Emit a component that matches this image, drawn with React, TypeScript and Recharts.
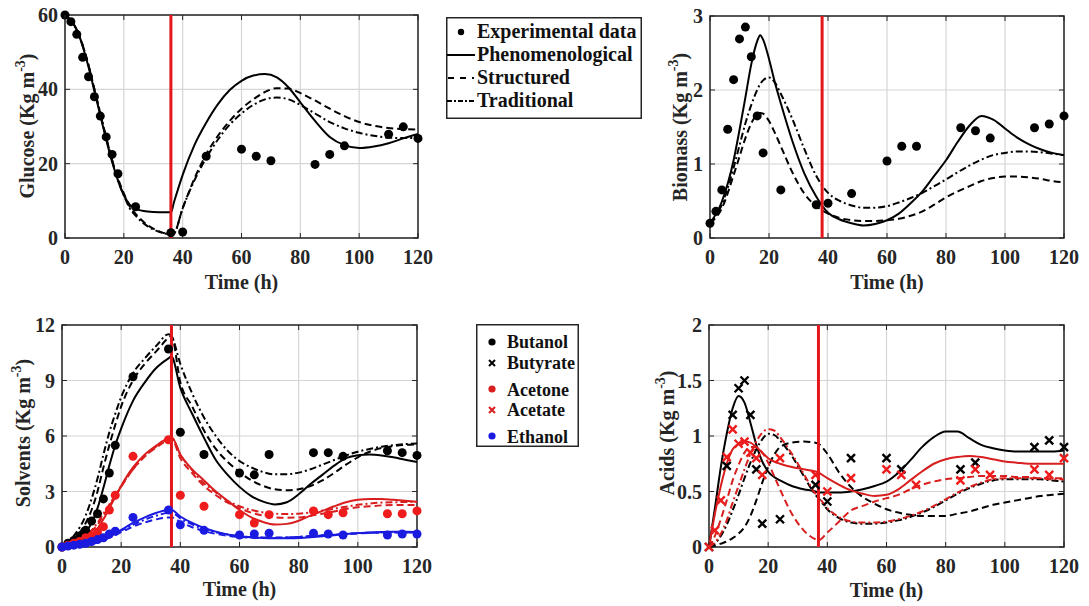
import React from 'react';
import {
  ComposedChart,
  Line,
  Scatter,
  XAxis,
  YAxis,
  CartesianGrid,
  ReferenceLine,
  ReferenceArea,
} from 'recharts';

const FONT = '"Liberation Serif", "Times New Roman", serif';
const INK = '#262626';
const RED = '#d81e1e';
const BLUE = '#1a1ae0';
const CUT = '#e3161b';
const DASH = '7 4';
const DASHDOT = '7 3 2 3';

const timeTicks = [0, 20, 40, 60, 80, 100, 120];
const expTime = [0, 2, 4, 6, 8, 10, 12, 14, 16, 18, 24, 36, 40, 48, 60, 65, 70, 85, 90, 95, 110, 115, 120];

// ---- glucose ----
const glcT = [0, 4, 8, 10, 12, 14, 16, 18, 20, 22, 24, 28, 32, 36, 37, 40, 44, 48, 52, 56, 60, 64, 68, 72, 76, 80, 85, 90, 95, 100, 105, 110, 115, 120];
const glcPhen = [60, 56, 46, 39.5, 33, 26.5, 20.5, 15.5, 11.5, 9, 7.9, 7.1, 6.9, 6.9, 9.5, 17, 25, 31, 36, 39.8, 42.3, 43.7, 44.1, 43.2, 40.5, 36.5, 31.5, 27.2, 25, 24.2, 24.6, 25.5, 26.8, 28];
const glcStruct = [60, 56, 46.5, 40, 33.5, 27, 21, 16, 12, 8.5, 6.5, 3.5, 1.8, 1, 1.2, 8, 16, 22.5, 27.5, 31.5, 34.8, 37.3, 39.3, 40.3, 40.2, 39, 37, 34.8, 32.8, 31.2, 30.2, 29.6, 29.3, 29.2];
const glcTrad = [60, 56, 46.5, 40, 33.5, 27, 21, 15.5, 11.5, 8, 6, 3.2, 1.7, 1, 1.2, 8, 15.5, 21.5, 26.5, 30.5, 33.5, 35.8, 37.3, 37.8, 37.3, 35.8, 33.5, 31.2, 29.5, 28.3, 27.5, 27, 26.9, 26.9];
const glcExp = [60, 58.2, 54.8, 48.6, 43.4, 38, 32.8, 27.2, 22.5, 17.3, 8.4, 1.4, 1.6, 22, 23.9, 22, 20.8, 19.8, 22.5, 24.8, 27.9, 29.9, 26.8];

// ---- biomass ----
const bioT = [0, 4, 8, 10, 12, 14, 16, 17, 18, 20, 22, 24, 28, 32, 36, 40, 44, 48, 52, 56, 60, 64, 68, 72, 76, 80, 84, 88, 92, 96, 100, 104, 108, 112, 116, 120];
const bioPhen = [0.2, 0.49, 1.05, 1.46, 1.9, 2.35, 2.66, 2.74, 2.68, 2.42, 2.1, 1.82, 1.3, 0.87, 0.56, 0.34, 0.25, 0.2, 0.17, 0.19, 0.24, 0.33, 0.47, 0.63, 0.84, 1.05, 1.3, 1.52, 1.65, 1.6, 1.48, 1.36, 1.27, 1.2, 1.15, 1.12];
const bioStruct = [0.2, 0.4, 0.85, 1.1, 1.35, 1.55, 1.67, 1.69, 1.68, 1.58, 1.42, 1.24, 0.88, 0.6, 0.43, 0.33, 0.27, 0.24, 0.23, 0.23, 0.24, 0.26, 0.3, 0.36, 0.45, 0.55, 0.63, 0.7, 0.77, 0.81, 0.83, 0.83, 0.82, 0.8, 0.77, 0.75];
const bioTrad = [0.2, 0.45, 0.95, 1.25, 1.55, 1.8, 2.0, 2.08, 2.13, 2.17, 2.1, 1.95, 1.6, 1.2, 0.84, 0.61, 0.5, 0.44, 0.41, 0.41, 0.43, 0.48, 0.54, 0.61, 0.7, 0.79, 0.89, 0.98, 1.06, 1.12, 1.15, 1.17, 1.17, 1.16, 1.14, 1.12];
const bioExp = [0.2, 0.36, 0.65, 1.47, 2.14, 2.69, 2.85, 2.45, 1.65, 1.15, 0.65, 0.45, 0.47, 0.6, 1.04, 1.24, 1.24, 1.49, 1.45, 1.35, 1.49, 1.54, 1.65];

// ---- solvents ----
const solT = [0, 4, 8, 10, 12, 14, 16, 18, 20, 24, 28, 32, 36, 37, 40, 44, 48, 52, 56, 60, 64, 68, 72, 76, 80, 84, 88, 92, 96, 100, 104, 108, 112, 116, 120];
const butPhen = [0, 0.25, 0.8, 1.3, 2.1, 3.2, 4.4, 5.5, 6.4, 7.9, 8.9, 9.7, 10.2, 10.3, 8.6, 7.2, 5.9, 4.7, 3.9, 3.25, 2.75, 2.45, 2.3, 2.42, 2.85, 3.4, 3.9, 4.4, 4.8, 4.96, 5.0, 4.95, 4.85, 4.72, 4.6];
const butStruct = [0, 0.4, 1.3, 2.0, 3.0, 4.3, 5.5, 6.6, 7.6, 9.0, 9.9, 10.6, 11.3, 11.4, 8.9, 7.6, 6.3, 5.3, 4.6, 4.05, 3.6, 3.3, 3.12, 3.07, 3.12, 3.3, 3.6, 4.0, 4.45, 4.85, 5.15, 5.35, 5.45, 5.52, 5.55];
const butTrad = [0, 0.6, 1.7, 2.6, 3.7, 5.0, 6.2, 7.2, 8.1, 9.4, 10.2, 10.9, 11.5, 11.4, 9.9, 8.3, 7.0, 6.0, 5.2, 4.65, 4.3, 4.05, 3.93, 3.93, 4.02, 4.2, 4.45, 4.7, 4.95, 5.15, 5.3, 5.42, 5.5, 5.56, 5.6];
const acePhen = [0, 0.15, 0.4, 0.6, 1.0, 1.5, 2.1, 2.7, 3.3, 4.3, 5.0, 5.5, 5.9, 5.95, 5.0, 4.2, 3.6, 3.0, 2.5, 2.0, 1.6, 1.35, 1.22, 1.25, 1.42, 1.7, 1.95, 2.2, 2.42, 2.55, 2.6, 2.6, 2.55, 2.5, 2.45];
const aceStruct = [0, 0.2, 0.55, 0.85, 1.2, 1.7, 2.2, 2.75, 3.25, 4.2, 4.9, 5.4, 5.8, 5.85, 4.8, 4.0, 3.3, 2.8, 2.4, 2.1, 1.85, 1.7, 1.6, 1.58, 1.6, 1.68, 1.8, 1.92, 2.05, 2.15, 2.2, 2.25, 2.27, 2.27, 2.27];
const aceTrad = [0, 0.25, 0.6, 0.9, 1.3, 1.8, 2.3, 2.8, 3.3, 4.2, 4.9, 5.45, 5.85, 5.9, 5.0, 4.15, 3.45, 2.95, 2.5, 2.2, 2.0, 1.87, 1.8, 1.78, 1.8, 1.87, 1.97, 2.07, 2.18, 2.28, 2.35, 2.4, 2.42, 2.43, 2.43];
const ethPhen = [0, 0.04, 0.12, 0.2, 0.3, 0.42, 0.58, 0.75, 0.92, 1.3, 1.6, 1.85, 2.0, 2.0, 1.65, 1.3, 1.03, 0.83, 0.68, 0.58, 0.52, 0.48, 0.47, 0.47, 0.49, 0.53, 0.58, 0.64, 0.7, 0.75, 0.79, 0.81, 0.82, 0.82, 0.81];
const ethStruct = [0, 0.04, 0.1, 0.16, 0.25, 0.36, 0.5, 0.65, 0.8, 1.1, 1.33, 1.5, 1.6, 1.6, 1.35, 1.07, 0.86, 0.71, 0.61, 0.54, 0.5, 0.49, 0.49, 0.51, 0.54, 0.58, 0.62, 0.66, 0.7, 0.73, 0.76, 0.77, 0.78, 0.79, 0.79];
const ethTrad = [0, 0.05, 0.13, 0.2, 0.3, 0.42, 0.57, 0.72, 0.88, 1.2, 1.48, 1.7, 1.85, 1.86, 1.55, 1.22, 0.97, 0.8, 0.67, 0.59, 0.54, 0.52, 0.51, 0.52, 0.55, 0.59, 0.63, 0.67, 0.71, 0.75, 0.77, 0.79, 0.8, 0.8, 0.8];
const butExp = [0, 0.2, 0.35, 0.6, 0.9, 1.4, 1.8, 2.6, 4.0, 5.5, 9.2, 10.7, 6.2, 5.0, 4.0, 3.9, 5.0, 5.1, 5.1, 4.9, 5.2, 5.1, 4.95];
const aceExp = [0, 0.1, 0.2, 0.3, 0.5, 0.6, 0.8, 1.1, 2.0, 2.8, 4.9, 5.8, 2.8, 2.2, 1.75, 1.3, 1.75, 1.95, 1.75, 1.85, 1.8, 1.8, 1.95];
const ethExp = [0, 0.05, 0.1, 0.15, 0.2, 0.3, 0.4, 0.5, 0.7, 0.85, 1.6, 2.0, 1.2, 0.9, 0.65, 0.7, 0.75, 0.75, 0.7, 0.65, 0.65, 0.7, 0.7];

// ---- acids ----
const acdT = [0, 2, 4, 6, 8, 10, 12, 14, 16, 18, 20, 22, 24, 28, 32, 36, 37, 40, 44, 48, 52, 56, 60, 64, 68, 72, 76, 80, 84, 88, 92, 96, 100, 104, 108, 112, 116, 120];
const bytPhen = [0, 0.35, 0.72, 1.02, 1.25, 1.36, 1.3, 1.12, 0.92, 0.77, 0.68, 0.63, 0.6, 0.55, 0.52, 0.5, 0.49, 0.49, 0.49, 0.5, 0.52, 0.55, 0.59, 0.67, 0.78, 0.9, 0.99, 1.04, 1.04, 0.98, 0.92, 0.89, 0.87, 0.86, 0.86, 0.86, 0.86, 0.87];
const bytStruct = [0, 0.01, 0.03, 0.05, 0.08, 0.12, 0.18, 0.28, 0.42, 0.58, 0.72, 0.83, 0.9, 0.94, 0.95, 0.94, 0.93, 0.84, 0.67, 0.54, 0.45, 0.39, 0.34, 0.31, 0.29, 0.28, 0.28, 0.28, 0.3, 0.32, 0.35, 0.38, 0.4, 0.42, 0.44, 0.46, 0.47, 0.48];
const bytTrad = [0, 0.03, 0.1, 0.2, 0.33, 0.47, 0.62, 0.76, 0.88, 0.97, 1.02, 1.01, 0.96, 0.82, 0.64, 0.47, 0.44, 0.34, 0.26, 0.22, 0.21, 0.21, 0.22, 0.24, 0.27, 0.31, 0.36, 0.42, 0.48, 0.53, 0.57, 0.6, 0.61, 0.61, 0.61, 0.61, 0.6, 0.59];
const actPhen = [0, 0.3, 0.55, 0.75, 0.88, 0.93, 0.95, 0.94, 0.9, 0.85, 0.8, 0.77, 0.75, 0.72, 0.7, 0.68, 0.67, 0.62, 0.56, 0.51, 0.48, 0.46, 0.47, 0.52, 0.6, 0.68, 0.75, 0.79, 0.81, 0.82, 0.81, 0.79, 0.77, 0.76, 0.75, 0.75, 0.75, 0.75];
const actStruct = [0, 0.1, 0.25, 0.42, 0.6, 0.74, 0.85, 0.9, 0.9, 0.85, 0.76, 0.64, 0.52, 0.3, 0.15, 0.07, 0.06, 0.13, 0.23, 0.33, 0.37, 0.41, 0.44, 0.47, 0.52, 0.56, 0.59, 0.61, 0.62, 0.63, 0.64, 0.64, 0.64, 0.63, 0.63, 0.62, 0.62, 0.62];
const actTrad = [0, 0.04, 0.12, 0.24, 0.4, 0.55, 0.7, 0.84, 0.95, 1.03, 1.06, 1.05, 0.99, 0.84, 0.66, 0.48, 0.45, 0.35, 0.27, 0.23, 0.22, 0.22, 0.23, 0.25, 0.28, 0.32, 0.37, 0.43, 0.49, 0.54, 0.58, 0.61, 0.62, 0.62, 0.62, 0.62, 0.61, 0.61];
const bytExpT = [0, 6, 8, 10, 12, 14, 16, 18, 24, 36, 40, 48, 60, 65, 85, 90, 110, 115, 120];
const bytExp = [0, 0.73, 1.19, 1.43, 1.5, 1.19, 0.7, 0.21, 0.25, 0.56, 0.41, 0.8, 0.8, 0.7, 0.7, 0.76, 0.9, 0.96, 0.9];
const actExp = [0, 0.15, 0.42, 0.81, 1.06, 0.93, 0.95, 0.85, 0.8, 0.65, 0.8, 0.65, 0.5, 0.62, 0.7, 0.65, 0.56, 0.6, 0.7, 0.65, 0.7, 0.65, 0.8];

type Pt = { t: number; v: number };
const pair = (ts: number[], vs: number[]): Pt[] => ts.map((t, i) => ({ t, v: vs[i] }));

type Curve = { data: Pt[]; color: string; dash?: string };
type Marks = { data: Pt[]; color: string; marker: 'dot' | 'cross' };

const Y_W = 50;
const X_H = 40;

const dotShape = (color: string) => (p: any) => <circle cx={p.cx} cy={p.cy} r={4.5} fill={color} />;
const crossShape = (color: string) => (p: any) => (
  <path
    d={`M${p.cx - 4},${p.cy - 4}L${p.cx + 4},${p.cy + 4}M${p.cx - 4},${p.cy + 4}L${p.cx + 4},${p.cy - 4}`}
    stroke={color}
    strokeWidth={2.4}
  />
);

interface PanelProps {
  left: number;
  top: number;
  width: number;
  height: number;
  plot: { x: number; y: number; w: number; h: number };
  yMax: number;
  yTicks: number[];
  title: string;
  titleX: number;
  titleCy: number;
  timeY: number;
  cut: number;
  curves: Curve[];
  marks: Marks[];
}

const Panel = ({ left, top, width, height, plot, yMax, yTicks, title, titleX, titleCy, timeY, cut, curves, marks }: PanelProps) => {
  const margin = {
    top: plot.y,
    left: plot.x - Y_W,
    right: width - (plot.x + plot.w),
    bottom: height - (plot.y + plot.h) - X_H,
  };
  const textStyle = { fontFamily: FONT, fontWeight: 700, fontSize: 20, fill: INK };

  // bottom ticks also draw the inward tick on the top edge
  const XTick = (p: any) => (
    <g>
      <text x={p.x} y={p.y} dy="0.71em" textAnchor="middle" style={textStyle}>
        {p.payload.value}
      </text>
      <line x1={p.x} x2={p.x} y1={plot.y} y2={plot.y + 5} stroke={INK} strokeWidth={1} />
    </g>
  );
  // left ticks also draw the inward tick on the right edge
  const YTick = (p: any) => (
    <g>
      <text x={p.x} y={p.y} dy="0.355em" textAnchor="end" style={textStyle}>
        {p.payload.value}
      </text>
      <line x1={plot.x + plot.w - 5} x2={plot.x + plot.w} y1={p.y} y2={p.y} stroke={INK} strokeWidth={1} />
    </g>
  );

  return (
    <div style={{ position: 'absolute', left, top, width, height }}>
      <ComposedChart width={width} height={height} margin={margin}>
        <CartesianGrid stroke="#d6d6d6" strokeWidth={1.2} />
        <XAxis
          dataKey="t"
          type="number"
          domain={[0, 120]}
          ticks={timeTicks}
          interval={0}
          height={X_H}
          axisLine={false}
          tickSize={-5}
          tickMargin={17}
          tickLine={{ stroke: INK }}
          tick={XTick}
          label={{
            content: () => (
              <text x={plot.x + plot.w / 2} y={timeY} textAnchor="middle" style={textStyle}>
                Time (h)
              </text>
            ),
          }}
        />
        <YAxis
          dataKey="v"
          type="number"
          domain={[0, yMax]}
          ticks={yTicks}
          interval={0}
          width={Y_W}
          axisLine={false}
          tickSize={-5}
          tickMargin={12}
          tickLine={{ stroke: INK }}
          tick={YTick}
          label={{
            content: () => (
              <text transform={`translate(${titleX},${titleCy}) rotate(-90)`} textAnchor="middle" style={textStyle}>
                {title} (Kg m
                <tspan dy={-9} fontSize={14}>
                  -3
                </tspan>
                <tspan dy={9}>)</tspan>
              </text>
            ),
          }}
        />
        {curves.map((c, i) => (
          <Line
            key={'c' + i}
            data={c.data}
            dataKey="v"
            type="monotone"
            stroke={c.color}
            strokeWidth={2}
            strokeDasharray={c.dash}
            dot={false}
            activeDot={false}
            isAnimationActive={false}
          />
        ))}
        <ReferenceLine x={cut} stroke={CUT} strokeWidth={3} />
        {marks.map((m, i) => (
          <Scatter
            key={'m' + i}
            data={m.data}
            dataKey="v"
            fill={m.color}
            shape={m.marker === 'dot' ? dotShape(m.color) : crossShape(m.color)}
            isAnimationActive={false}
          />
        ))}
        <ReferenceArea x1={0} x2={120} y1={0} y2={yMax} fill="none" stroke={INK} strokeWidth={1.5} ifOverflow="visible" />
      </ComposedChart>
    </div>
  );
};

const legendText = { fontFamily: FONT, fontWeight: 700, fontSize: 20, fill: '#111' };

const ModelLegend = () => (
  <svg style={{ position: 'absolute', left: 446, top: 17 }} width={196} height={102}>
    <rect x={0.75} y={0.75} width={194.5} height={100.5} fill="#fff" stroke={INK} strokeWidth={1.5} />
    <circle cx={15} cy={15} r={3.2} fill="#000" />
    <text x={31} y={21} style={legendText}>Experimental data</text>
    <line x1={1} x2={29} y1={38} y2={38} stroke="#000" strokeWidth={2} />
    <text x={31} y={44} style={legendText}>Phenomenological</text>
    <line x1={2} x2={28} y1={61} y2={61} stroke="#000" strokeWidth={2} strokeDasharray="6 6" />
    <text x={31} y={67} style={legendText}>Structured</text>
    <line x1={1} x2={29} y1={84} y2={84} stroke="#000" strokeWidth={2} strokeDasharray="5 2 2 2" />
    <text x={31} y={90} style={legendText}>Traditional</text>
  </svg>
);

const speciesText = { ...legendText, fontSize: 18 };

const SpeciesLegend = () => (
  <svg style={{ position: 'absolute', left: 476, top: 324 }} width={103} height={123}>
    <rect x={0.75} y={0.75} width={101.5} height={121.5} fill="#fff" stroke={INK} strokeWidth={1.5} />
    <circle cx={16} cy={18} r={3.6} fill="#000" />
    <text x={31} y={24} style={speciesText}>Butanol</text>
    <path d="M13,36L19,42M13,42L19,36" stroke="#000" strokeWidth={2} />
    <text x={31} y={45} style={speciesText}>Butyrate</text>
    <circle cx={16} cy={65} r={3.6} fill={RED} />
    <text x={31} y={72} style={speciesText}>Acetone</text>
    <path d="M13,83L19,89M13,89L19,83" stroke={RED} strokeWidth={2} />
    <text x={31} y={92} style={speciesText}>Acetate</text>
    <circle cx={16} cy={112} r={3.6} fill={BLUE} />
    <text x={31} y={119} style={speciesText}>Ethanol</text>
  </svg>
);

export default function App() {
  return (
    <div style={{ position: 'absolute', left: 0, top: 0, width: 1089, height: 606, background: '#fff', overflow: 'hidden' }}>
      <Panel
        left={0}
        top={0}
        width={440}
        height={300}
        plot={{ x: 65, y: 15, w: 353, h: 223 }}
        yMax={60}
        yTicks={[0, 20, 40, 60]}
        title="Glucose"
        titleX={33.5}
        titleCy={126}
        timeY={289}
        cut={36}
        curves={[
          { data: pair(glcT, glcPhen), color: '#000' },
          { data: pair(glcT, glcStruct), color: '#000', dash: DASH },
          { data: pair(glcT, glcTrad), color: '#000', dash: DASHDOT },
        ]}
        marks={[{ data: pair(expTime, glcExp), color: '#000', marker: 'dot' }]}
      />
      <Panel
        left={640}
        top={0}
        width={449}
        height={300}
        plot={{ x: 70, y: 16, w: 354, h: 222 }}
        yMax={3}
        yTicks={[0, 1, 2, 3]}
        title="Biomass"
        titleX={47}
        titleCy={127}
        timeY={289}
        cut={38}
        curves={[
          { data: pair(bioT, bioPhen), color: '#000' },
          { data: pair(bioT, bioStruct), color: '#000', dash: DASH },
          { data: pair(bioT, bioTrad), color: '#000', dash: DASHDOT },
        ]}
        marks={[{ data: pair(expTime, bioExp), color: '#000', marker: 'dot' }]}
      />
      <Panel
        left={0}
        top={300}
        width={440}
        height={306}
        plot={{ x: 62, y: 25, w: 355, h: 222 }}
        yMax={12}
        yTicks={[0, 3, 6, 9, 12]}
        title="Solvents"
        titleX={30}
        titleCy={133}
        timeY={296}
        cut={37}
        curves={[
          { data: pair(solT, butPhen), color: '#000' },
          { data: pair(solT, butStruct), color: '#000', dash: DASH },
          { data: pair(solT, butTrad), color: '#000', dash: DASHDOT },
          { data: pair(solT, acePhen), color: RED },
          { data: pair(solT, aceStruct), color: RED, dash: DASH },
          { data: pair(solT, aceTrad), color: RED, dash: DASHDOT },
          { data: pair(solT, ethPhen), color: BLUE },
          { data: pair(solT, ethStruct), color: BLUE, dash: DASH },
          { data: pair(solT, ethTrad), color: BLUE, dash: DASHDOT },
        ]}
        marks={[
          { data: pair(expTime, butExp), color: '#000', marker: 'dot' },
          { data: pair(expTime, aceExp), color: '#ee1c1c', marker: 'dot' },
          { data: pair(expTime, ethExp), color: BLUE, marker: 'dot' },
        ]}
      />
      <Panel
        left={640}
        top={300}
        width={449}
        height={306}
        plot={{ x: 69, y: 25, w: 355, h: 222 }}
        yMax={2}
        yTicks={[0, 0.5, 1, 1.5, 2]}
        title="Acids"
        titleX={33.5}
        titleCy={133}
        timeY={297}
        cut={37}
        curves={[
          { data: pair(acdT, bytPhen), color: '#000' },
          { data: pair(acdT, bytStruct), color: '#000', dash: DASH },
          { data: pair(acdT, bytTrad), color: '#000', dash: DASHDOT },
          { data: pair(acdT, actPhen), color: RED },
          { data: pair(acdT, actStruct), color: RED, dash: DASH },
          { data: pair(acdT, actTrad), color: RED, dash: DASHDOT },
        ]}
        marks={[
          { data: pair(bytExpT, bytExp), color: '#000', marker: 'cross' },
          { data: pair(expTime, actExp), color: '#ee1c1c', marker: 'cross' },
        ]}
      />
      <ModelLegend />
      <SpeciesLegend />
    </div>
  );
}
